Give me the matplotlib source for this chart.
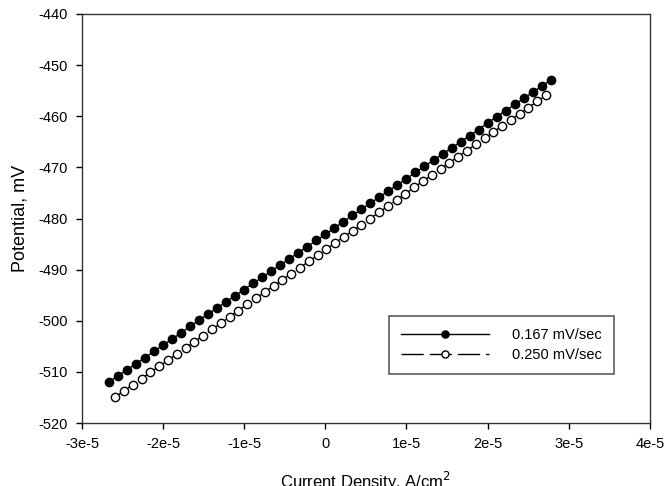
import matplotlib
matplotlib.use("Agg")
import matplotlib.pyplot as plt
import numpy as np

plt.rcParams['font.family'] = ['Liberation Sans', 'DejaVu Sans']
plt.rcParams['axes.unicode_minus'] = False

# Series 1: 0.167 mV/sec (filled circles)
x_167 = [-26.70, -25.59, -24.48, -23.36, -22.25, -21.14, -20.03, -18.92, -17.80, -16.69,
         -15.58, -14.47, -13.35, -12.24, -11.13, -10.02, -8.91, -7.79, -6.68, -5.57,
         -4.46, -3.34, -2.23, -1.12, -0.01, 1.10, 2.21, 3.33, 4.44, 5.55,
         6.66, 7.77, 8.89, 10.00, 11.11, 12.22, 13.34, 14.45, 15.56, 16.67,
         17.78, 18.90, 20.01, 21.12, 22.23, 23.35, 24.46, 25.57, 26.68, 27.80]  # x 1e-6 A/cm2
y_167 = [-512.0, -510.8, -509.6, -508.4, -507.2, -506.0, -504.8, -503.6, -502.4, -501.1,
         -499.9, -498.7, -497.5, -496.3, -495.1, -493.9, -492.7, -491.5, -490.3, -489.1,
         -487.9, -486.7, -485.5, -484.3, -483.1, -481.9, -480.6, -479.4, -478.2, -477.0,
         -475.8, -474.6, -473.4, -472.2, -471.0, -469.8, -468.6, -467.4, -466.2, -465.0,
         -463.8, -462.6, -461.3, -460.1, -458.9, -457.7, -456.5, -455.3, -454.1, -452.9]

# Series 2: 0.250 mV/sec (open circles)
x_250 = [-25.90, -24.82, -23.73, -22.65, -21.57, -20.48, -19.40, -18.31, -17.23, -16.15,
         -15.06, -13.98, -12.90, -11.81, -10.73, -9.64, -8.56, -7.48, -6.39, -5.31,
         -4.23, -3.14, -2.06, -0.97, 0.11, 1.19, 2.28, 3.36, 4.44, 5.53,
         6.61, 7.70, 8.78, 9.86, 10.95, 12.03, 13.11, 14.20, 15.28, 16.37,
         17.45, 18.53, 19.62, 20.70, 21.78, 22.87, 23.95, 25.04, 26.12, 27.20]  # x 1e-6 A/cm2
y_250 = [-514.9, -513.7, -512.5, -511.3, -510.1, -508.9, -507.7, -506.5, -505.3, -504.1,
         -502.9, -501.7, -500.5, -499.2, -498.0, -496.8, -495.6, -494.4, -493.2, -492.0,
         -490.8, -489.6, -488.4, -487.2, -486.0, -484.8, -483.6, -482.4, -481.2, -480.0,
         -478.8, -477.6, -476.4, -475.2, -473.9, -472.7, -471.5, -470.3, -469.1, -467.9,
         -466.7, -465.5, -464.3, -463.1, -461.9, -460.7, -459.5, -458.3, -457.1, -455.9]

labels = ["0.167 mV/sec", "0.250 mV/sec"]
xticks = [-3e-5, -2e-5, -1e-5, 0, 1e-5, 2e-5, 3e-5, 4e-5]
xticklabels = ["-3e-5", "-2e-5", "-1e-5", "0", "1e-5", "2e-5", "3e-5", "4e-5"]
yticks = [-520, -510, -500, -490, -480, -470, -460, -450, -440]

fig = plt.figure(figsize=(6.68, 4.86), dpi=100)
ax = fig.add_axes([0.1228, 0.1296, 0.850, 0.8416])

ax.plot(np.array(x_167) * 1e-6, y_167, color='black', lw=1, marker='o', ms=6,
        mfc='black', mec='black', label=labels[0])
ax.plot(np.array(x_250) * 1e-6, y_250, color='black', lw=1, ls=(0, (16, 4.3)), marker='o',
        ms=6, mfc='white', mec='black', mew=1, label=labels[1])

ax.set_xlim(-3e-5, 4e-5)
ax.set_ylim(-520, -440)
ax.set_xticks(xticks)
ax.set_xticklabels(xticklabels)
ax.set_yticks(yticks)
ax.tick_params(direction='out', length=4, width=1, labelsize=10.5, colors='black', pad=6)
ax.tick_params(top=False, right=False)
for s in ax.spines.values():
    s.set_linewidth(1)
    s.set_color('#333333')

ax.set_xlabel("Current Density, A/cm$^2$", fontsize=12, labelpad=14)
ax.set_ylabel("Potential, mV", fontsize=13, labelpad=7)

leg = ax.legend(loc='upper left', bbox_to_anchor=(0.540, 0.262), fontsize=10.5,
                numpoints=1, handlelength=6.0, handletextpad=1.6, markerscale=0.85,
                frameon=True, fancybox=False, edgecolor='#333333', borderpad=0.85,
                labelspacing=0.4, borderaxespad=0)
leg.get_frame().set_linewidth(1.2)

fig.savefig("out.png", dpi=100)
